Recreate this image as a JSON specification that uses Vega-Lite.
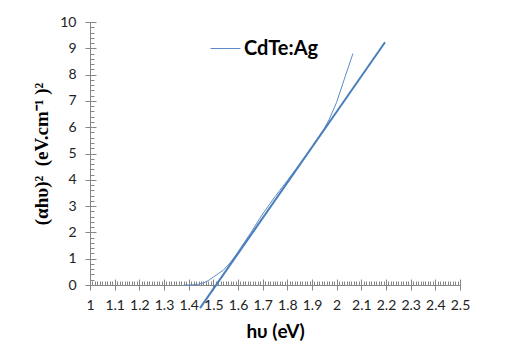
{
  "$schema": "https://vega.github.io/schema/vega-lite/v6.json",
  "autosize": {"type": "none"},
  "padding": {"left": 90, "top": 22, "right": 45, "bottom": 77},
  "width": 370,
  "height": 263,
  "background": "white",
  "config": {
    "view": {"stroke": null},
    "axis": {"grid": false, "domainColor": "#868686", "tickColor": "#868686", "labelColor": "#222", "labelFont": "Lato", "labelFontSize": 14, "titleColor": "#000"}
  },
  "datasets": {
    "meas": [
      {"hv": 1.38, "y": 0, "series": "CdTe:Ag"},
      {"hv": 1.40, "y": 0, "series": "CdTe:Ag"},
      {"hv": 1.42, "y": 0.01, "series": "CdTe:Ag"},
      {"hv": 1.44, "y": 0.03, "series": "CdTe:Ag"},
      {"hv": 1.46, "y": 0.08, "series": "CdTe:Ag"},
      {"hv": 1.48, "y": 0.17, "series": "CdTe:Ag"},
      {"hv": 1.50, "y": 0.3, "series": "CdTe:Ag"},
      {"hv": 1.52, "y": 0.43, "series": "CdTe:Ag"},
      {"hv": 1.54, "y": 0.56, "series": "CdTe:Ag"},
      {"hv": 1.56, "y": 0.76, "series": "CdTe:Ag"},
      {"hv": 1.58, "y": 0.99, "series": "CdTe:Ag"},
      {"hv": 1.60, "y": 1.26, "series": "CdTe:Ag"},
      {"hv": 1.65, "y": 1.96, "series": "CdTe:Ag"},
      {"hv": 1.70, "y": 2.7, "series": "CdTe:Ag"},
      {"hv": 1.75, "y": 3.36, "series": "CdTe:Ag"},
      {"hv": 1.80, "y": 3.97, "series": "CdTe:Ag"},
      {"hv": 1.85, "y": 4.6, "series": "CdTe:Ag"},
      {"hv": 1.90, "y": 5.26, "series": "CdTe:Ag"},
      {"hv": 1.95, "y": 5.95, "series": "CdTe:Ag"},
      {"hv": 1.97, "y": 6.3, "series": "CdTe:Ag"},
      {"hv": 2.00, "y": 6.95, "series": "CdTe:Ag"},
      {"hv": 2.03, "y": 7.8, "series": "CdTe:Ag"},
      {"hv": 2.066, "y": 8.8, "series": "CdTe:Ag"}
    ],
    "fit": [
      {"hv": 1.446, "y": -0.88},
      {"hv": 2.196, "y": 9.23}
    ]
  },
  "resolve": {"axis": {"x": "independent", "y": "independent"}},
  "layer": [
    {
      "data": {"name": "meas"},
      "mark": {"type": "line", "strokeWidth": 1, "clip": false},
      "encoding": {
        "x": {"field": "hv", "type": "quantitative", "scale": {"domain": [1, 2.5], "nice": false, "zero": false},
          "axis": {"orient": "bottom", "values": [1,1.1,1.2,1.3,1.4,1.5,1.6,1.7,1.8,1.9,2,2.1,2.2,2.3,2.4,2.5], "format": "~g", "tickSize": 5, "labelPadding": 8, "title": "hυ (eV)", "titleFont": "Lato", "titleFontSize": 19, "titleFontWeight": "bold", "titlePadding": 10, "labelFlush": false}},
        "y": {"field": "y", "type": "quantitative", "scale": {"domain": [0, 10], "nice": false},
          "axis": {"orient": "left", "values": [0,1,2,3,4,5,6,7,8,9,10], "tickSize": 5, "labelPadding": 9, "title": "(αhυ)²\u00a0\u00a0(eV.cm⁻¹\u00a0)²", "titleFont": "Liberation Serif", "titleFontSize": 19, "titleFontWeight": "bold", "titlePadding": 8}},
        "color": {"field": "series", "type": "nominal", "scale": {"domain": ["CdTe:Ag"], "range": ["#5B8BC9"]},
          "legend": {"title": null, "orient": "none", "legendX": 120, "legendY": 11, "symbolType": "stroke", "symbolSize": 900, "symbolStrokeWidth": 1, "labelFont": "Lato", "labelFontSize": 20, "labelFontWeight": "bold", "labelColor": "#000", "labelOffset": 3}}
      }
    },
    {
      "data": {"name": "fit"},
      "mark": {"type": "line", "strokeWidth": 2, "color": "#4A7EBB", "clip": false},
      "encoding": {
        "x": {"field": "hv", "type": "quantitative", "scale": {"domain": [1, 2.5], "nice": false, "zero": false},
          "axis": {"orient": "bottom", "labels": false, "domain": false, "title": null, "tickSize": -4, "values": [1,1.01,1.02,1.03,1.04,1.05,1.06,1.07,1.08,1.09,1.1,1.11,1.12,1.13,1.14,1.15,1.16,1.17,1.18,1.19,1.2,1.21,1.22,1.23,1.24,1.25,1.26,1.27,1.28,1.29,1.3,1.31,1.32,1.33,1.34,1.35,1.36,1.37,1.38,1.39,1.4,1.41,1.42,1.43,1.44,1.45,1.46,1.47,1.48,1.49,1.5,1.51,1.52,1.53,1.54,1.55,1.56,1.57,1.58,1.59,1.6,1.61,1.62,1.63,1.64,1.65,1.66,1.67,1.68,1.69,1.7,1.71,1.72,1.73,1.74,1.75,1.76,1.77,1.78,1.79,1.8,1.81,1.82,1.83,1.84,1.85,1.86,1.87,1.88,1.89,1.9,1.91,1.92,1.93,1.94,1.95,1.96,1.97,1.98,1.99,2,2.01,2.02,2.03,2.04,2.05,2.06,2.07,2.08,2.09,2.1,2.11,2.12,2.13,2.14,2.15,2.16,2.17,2.18,2.19,2.2,2.21,2.22,2.23,2.24,2.25,2.26,2.27,2.28,2.29,2.3,2.31,2.32,2.33,2.34,2.35,2.36,2.37,2.38,2.39,2.4,2.41,2.42,2.43,2.44,2.45,2.46,2.47,2.48,2.49,2.5]}},
        "y": {"field": "y", "type": "quantitative", "scale": {"domain": [0, 10], "nice": false},
          "axis": {"orient": "left", "labels": false, "domain": false, "title": null, "tickSize": -4, "values": [0,0.2,0.4,0.6,0.8,1,1.2,1.4,1.6,1.8,2,2.2,2.4,2.6,2.8,3,3.2,3.4,3.6,3.8,4,4.2,4.4,4.6,4.8,5,5.2,5.4,5.6,5.8,6,6.2,6.4,6.6,6.8,7,7.2,7.4,7.6,7.8,8,8.2,8.4,8.6,8.8,9,9.2,9.4,9.6,9.8,10]}}
      }
    },
    {
      "data": {"name": "fit"},
      "mark": {"type": "point", "opacity": 0},
      "encoding": {
        "x": {"field": "hv", "type": "quantitative", "scale": {"domain": [1, 2.5], "nice": false, "zero": false},
          "axis": {"orient": "bottom", "labels": false, "domain": false, "title": null, "tickSize": -6, "values": [1,1.1,1.2,1.3,1.4,1.5,1.6,1.7,1.8,1.9,2,2.1,2.2,2.3,2.4,2.5]}},
        "y": {"field": "y", "type": "quantitative", "scale": {"domain": [0, 10], "nice": false},
          "axis": {"orient": "left", "labels": false, "domain": false, "title": null, "tickSize": -6, "values": [0,1,2,3,4,5,6,7,8,9,10]}}
      }
    }
  ]
}
